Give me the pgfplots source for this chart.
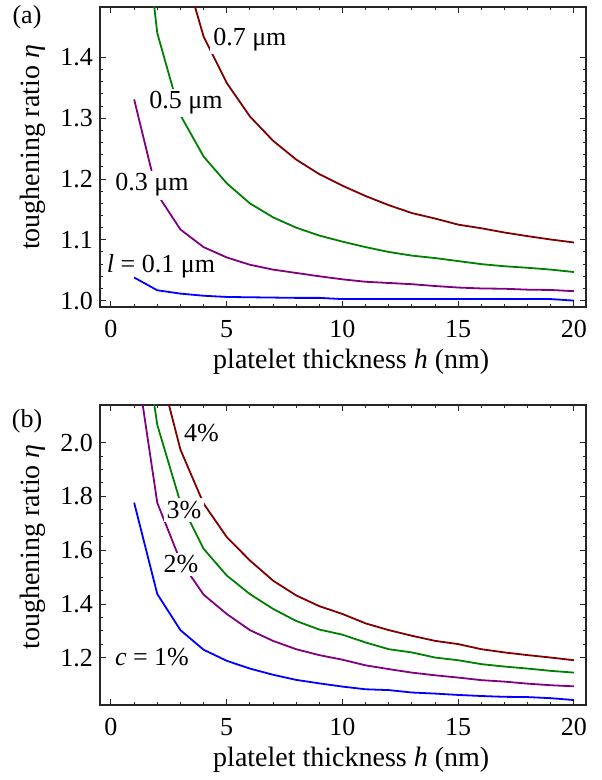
\documentclass[border=0pt]{standalone}
\usepackage{fontspec}
\setmainfont{Liberation Serif}
\usepackage{pgfplots}
\pgfplotsset{compat=1.18}
\definecolor{cblue}{RGB}{0,0,255}
\definecolor{cpurple}{RGB}{128,0,128}
\definecolor{cgreen}{RGB}{0,128,0}
\definecolor{cred}{RGB}{128,0,0}
\tikzset{annot/.style={fill=white, inner sep=1.5pt, font=\fontsize{13}{15}\selectfont},
         annotn/.style={inner sep=1.5pt, font=\fontsize{13}{15}\selectfont}}
\pgfplotsset{myax/.style={
  scale only axis, width=243pt, height=150pt,
  xmin=-0.475, xmax=20.52,
  xtick={0,5,10,15,20}, xticklabels={0,5,10,15,20}, minor x tick num=4,
  tick align=inside, xtick pos=both, ytick pos=both,
  major tick length=3pt, minor tick length=1.6pt,
  every tick/.style={black!85, line width=0.5pt},
  axis line style={black!85, line width=0.7pt},
  ticklabel style={font=\fontsize{13}{15}\selectfont\rmfamily},
  xticklabel style={yshift=-3pt},
  label style={font=\fontsize{14}{16}\selectfont},
  xlabel={platelet thickness \textit{h} (nm)},
  ylabel={toughening ratio \textit{η}},
  xlabel style={at={(rel axis cs:0.517,-0.183)}, anchor=center},
  every axis plot/.append style={line width=0.9pt},
}}
\begin{document}
\begin{tikzpicture}
\path[use as bounding box] (0,0) rectangle (300.5pt,390pt);
% ---------- (a)
\begin{axis}[myax, at={(50pt,386.5pt)}, anchor=north west,
  ymin=0.9895, ymax=1.483, ytick={1.0,1.1,1.2,1.3,1.4}, yticklabels={1.0,1.1,1.2,1.3,1.4}, minor y tick num=4,
  ylabel style={at={(rel axis cs:-0.138,0.532)}, anchor=center}]
\addplot[cblue] coordinates {(1,1.038) (2,1.017) (3,1.0115) (4,1.008) (5,1.006) (6,1.0055) (7,1.005) (8,1.0045) (9,1.0045) (10,1.0025) (11,1.0025) (12,1.0025) (13,1.0025) (14,1.0025) (15,1.0025) (16,1.0025) (17,1.0025) (18,1.0025) (19,1.0025) (20,1.0)};
\addplot[cpurple] coordinates {(1,1.331) (2,1.175) (3,1.117) (4,1.088) (5,1.071) (6,1.059) (7,1.051) (8,1.0455) (9,1.040) (10,1.035) (11,1.031) (12,1.029) (13,1.027) (14,1.024) (15,1.0215) (16,1.020) (17,1.0195) (18,1.018) (19,1.0175) (20,1.0155)};
\addplot[cgreen] coordinates {(1,1.77) (2,1.44) (3,1.305) (4,1.237) (5,1.193) (6,1.16) (7,1.137) (8,1.12) (9,1.107) (10,1.097) (11,1.088) (12,1.080) (13,1.074) (14,1.070) (15,1.065) (16,1.060) (17,1.0565) (18,1.054) (19,1.051) (20,1.047)};
\addplot[cred] coordinates {(2,1.85) (3,1.566) (4,1.4345) (5,1.358) (6,1.303) (7,1.263) (8,1.232) (9,1.208) (10,1.189) (11,1.172) (12,1.157) (13,1.144) (14,1.135) (15,1.125) (16,1.119) (17,1.112) (18,1.106) (19,1.1005) (20,1.0956)};
\node[annot] at (axis cs:6.0,1.429) {0.7 μm};
\node[annot] at (axis cs:3.24,1.325) {0.5 μm};
\node[annot] at (axis cs:1.77,1.19) {0.3 μm};
\node[annotn] at (axis cs:2.16,1.056) {\textit{l} = 0.1 μm};
\end{axis}
\node[font=\fontsize{13}{15}\selectfont] at (13.5pt,381.5pt) {(a)};
% ---------- (b)
\begin{axis}[myax, at={(50pt,187.5pt)}, anchor=north west,
  ymin=1.0246, ymax=2.140, ytick={1.2,1.4,1.6,1.8,2.0}, yticklabels={1.2,1.4,1.6,1.8,2.0}, minor y tick num=3,
  ylabel style={at={(rel axis cs:-0.138,0.527)}, anchor=center}]
\addplot[cblue] coordinates {(1,1.777) (2,1.437) (3,1.303) (4,1.230) (5,1.189) (6,1.160) (7,1.137) (8,1.118) (9,1.105) (10,1.093) (11,1.083) (12,1.080) (13,1.071) (14,1.067) (15,1.062) (16,1.058) (17,1.055) (18,1.054) (19,1.050) (20,1.043)};
\addplot[cpurple] coordinates {(1,2.354) (2,1.776) (3,1.56) (4,1.435) (5,1.363) (6,1.303) (7,1.263) (8,1.232) (9,1.210) (10,1.193) (11,1.172) (12,1.158) (13,1.145) (14,1.135) (15,1.1265) (16,1.117) (17,1.1115) (18,1.104) (19,1.098) (20,1.094)};
\addplot[cgreen] coordinates {(1,2.65) (2,2.066) (3,1.777) (4,1.6055) (5,1.506) (6,1.437) (7,1.382) (8,1.337) (9,1.305) (10,1.286) (11,1.257) (12,1.232) (13,1.220) (14,1.201) (15,1.191) (16,1.1765) (17,1.1675) (18,1.160) (19,1.1515) (20,1.145)};
\addplot[cred] coordinates {(2,2.309) (3,1.974) (4,1.7735) (5,1.649) (6,1.562) (7,1.487) (8,1.432) (9,1.392) (10,1.363) (11,1.328) (12,1.303) (13,1.282) (14,1.263) (15,1.251) (16,1.232) (17,1.220) (18,1.210) (19,1.201) (20,1.191)};
\node[annot] at (axis cs:3.91,2.036) {4\%};
\node[annot] at (axis cs:3.15,1.749) {3\%};
\node[annot] at (axis cs:3.02,1.547) {2\%};
\node[annotn] at (axis cs:1.77,1.204) {\textit{c} = 1\%};
\end{axis}
\node[font=\fontsize{13}{15}\selectfont] at (13.5pt,179.5pt) {(b)};
\end{tikzpicture}
\end{document}
